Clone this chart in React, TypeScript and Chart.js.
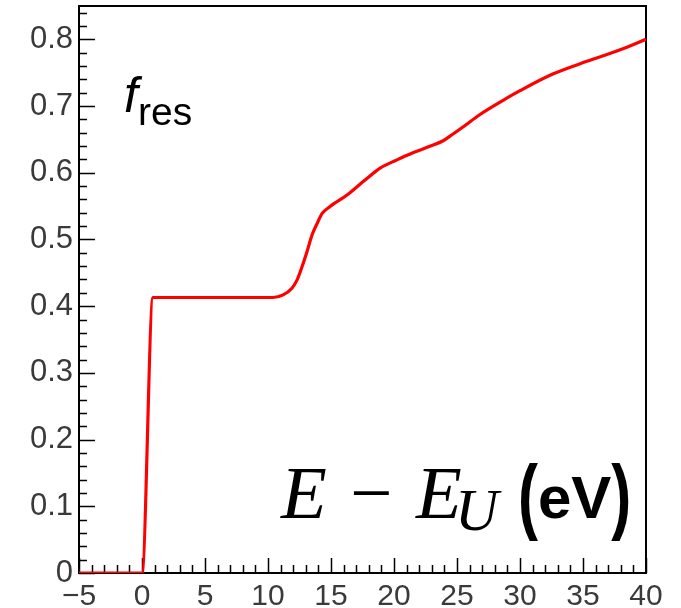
import React, { useEffect, useRef } from 'react';
import { Chart, registerables } from 'chart.js';

Chart.register(...registerables);

// E - E_U (eV)
const energyEV = [
  -5, 0, 0.87, 10.4, 11.2, 11.9, 12.3, 12.7, 13.1, 13.5, 13.9, 14.3, 14.9,
  16.3, 17.7, 18.9, 20.2, 21.5, 22.9, 23.9, 24.6, 25.5, 26.8, 28.7, 30.0,
  32.6, 35.3, 37.9, 40,
];
// f_res
const fres = [
  0, 0, 0.413, 0.413, 0.417, 0.427, 0.439, 0.459, 0.482, 0.507, 0.524, 0.539,
  0.549, 0.567, 0.589, 0.607, 0.619, 0.63, 0.64, 0.648, 0.657, 0.669, 0.687,
  0.709, 0.723, 0.748, 0.767, 0.784, 0.8,
];

const xTickValues = [-5, 0, 5, 10, 15, 20, 25, 30, 35, 40];
const yTickValues = [0, 0.1, 0.2, 0.3, 0.4, 0.5, 0.6, 0.7, 0.8];
const xRange = [-5, 40];
const yRange = [0, 0.85];

const fmtX = (v: number) => (v < 0 ? '\u2212' + Math.abs(v) : String(v));
const fmtY = (v: number) => (v === 0 ? '0' : v.toFixed(1));

const frameTicksPlugin = {
  id: 'frameTicks',
  beforeDatasetsDraw(chart: any) {
    const { ctx, chartArea, scales } = chart;
    const { left, right, top, bottom } = chartArea;
    const x = scales.x;
    const y = scales.y;
    ctx.save();
    ctx.strokeStyle = '#000';
    ctx.lineWidth = 1.5;
    ctx.beginPath();
    // x ticks: minor every 1, major every 5
    for (let i = -5; i <= 40; i++) {
      const px = Math.round(x.getPixelForValue(i)) + 0.5;
      const len = i % 5 === 0 ? 15 : 8;
      ctx.moveTo(px, bottom);
      ctx.lineTo(px, bottom - len);
    }
    // y ticks: minor every 0.02, major every 0.1
    for (let j = 0; j <= 42; j++) {
      const py = Math.round(y.getPixelForValue(j * 0.02)) + 0.5;
      const len = j % 5 === 0 ? 16 : 8;
      ctx.moveTo(left, py);
      ctx.lineTo(left + len, py);
    }
    ctx.stroke();
    ctx.lineWidth = 2;
    ctx.strokeRect(left, top, right - left, bottom - top);
    ctx.restore();
  },
};

const textPlugin = {
  id: 'annotText',
  afterDraw(chart: any) {
    const { ctx } = chart;
    ctx.save();
    ctx.fillStyle = '#000';
    ctx.textBaseline = 'alphabetic';
    ctx.textAlign = 'left';
    // f_res
    ctx.font = 'italic 50px "Liberation Sans"';
    ctx.fillText('f', 124, 112);
    ctx.font = '39px "Liberation Sans"';
    ctx.fillText('res', 138, 125);
    // E - E_U
    ctx.font = 'italic 75px "Liberation Serif"';
    ctx.fillText('E', 281, 518);
    ctx.font = '75px "Liberation Serif"';
    ctx.fillText('\u2212', 350, 518);
    ctx.font = 'italic 75px "Liberation Serif"';
    ctx.fillText('E', 416, 518);
    ctx.font = 'italic 60px "Liberation Serif"';
    ctx.fillText('U', 455, 530);
    // (eV)
    ctx.font = 'bold 60px "Liberation Sans"';
    const wp = ctx.measureText('(').width;
    const wev = ctx.measureText('eV').width;
    let cx = 518;
    const drawParen = (s: string, px: number) => {
      ctx.save();
      ctx.translate(px, 503);
      ctx.scale(1, 1.38);
      ctx.fillText(s, 0, 518 - 503);
      ctx.restore();
    };
    drawParen('(', cx);
    cx += wp;
    ctx.fillText('eV', cx, 518);
    cx += wev;
    drawParen(')', cx);
    ctx.restore();
  },
};

export default function App() {
  const ref = useRef<HTMLCanvasElement | null>(null);
  useEffect(() => {
    document.body.style.margin = '0';
    const canvas = ref.current;
    if (!canvas) return;
    const points = energyEV.map((e, i) => ({ x: e, y: fres[i] }));
    const chart = new Chart(canvas, {
      type: 'scatter',
      data: {
        datasets: [
          {
            data: points,
            showLine: true,
            borderColor: '#ff0000',
            backgroundColor: '#ff0000',
            borderWidth: 3.2,
            pointRadius: 0,
            cubicInterpolationMode: 'monotone',
            fill: false,
          },
        ],
      },
      options: {
        animation: false,
        responsive: false,
        devicePixelRatio: 1,
        layout: { padding: { top: 6, right: 35, left: 0, bottom: 0 } },
        plugins: { legend: { display: false }, tooltip: { enabled: false } },
        scales: {
          x: {
            type: 'linear',
            min: xRange[0],
            max: xRange[1],
            grid: { display: false, drawTicks: false, tickLength: 0 },
            border: { display: false },
            afterBuildTicks: (s: any) => {
              s.ticks = xTickValues.map((v) => ({ value: v }));
            },
            afterFit: (s: any) => {
              s.height = 35;
              s.paddingLeft = 0;
              s.paddingRight = 0;
            },
            ticks: {
              autoSkip: false,
              maxRotation: 0,
              padding: 6,
              color: '#3a3a3a',
              font: { family: '"Liberation Sans"', size: 30 },
              callback: (v: any) => fmtX(Number(v)),
            },
          },
          y: {
            type: 'linear',
            min: yRange[0],
            max: yRange[1],
            grid: { display: false, drawTicks: false, tickLength: 0 },
            border: { display: false },
            afterBuildTicks: (s: any) => {
              s.ticks = yTickValues.map((v) => ({ value: v }));
            },
            afterFit: (s: any) => {
              s.width = 79;
              s.paddingTop = 0;
              s.paddingBottom = 0;
            },
            ticks: {
              autoSkip: false,
              padding: 6,
              color: '#3a3a3a',
              font: { family: '"Liberation Sans"', size: 31 },
              callback: (v: any) => fmtY(Number(v)),
            },
          },
        },
      },
      plugins: [frameTicksPlugin, textPlugin],
    });
    return () => chart.destroy();
  }, []);
  return (
    <div style={{ width: 681, height: 608 }}>
      <canvas ref={ref} width={681} height={608} style={{ display: 'block' }} />
    </div>
  );
}
